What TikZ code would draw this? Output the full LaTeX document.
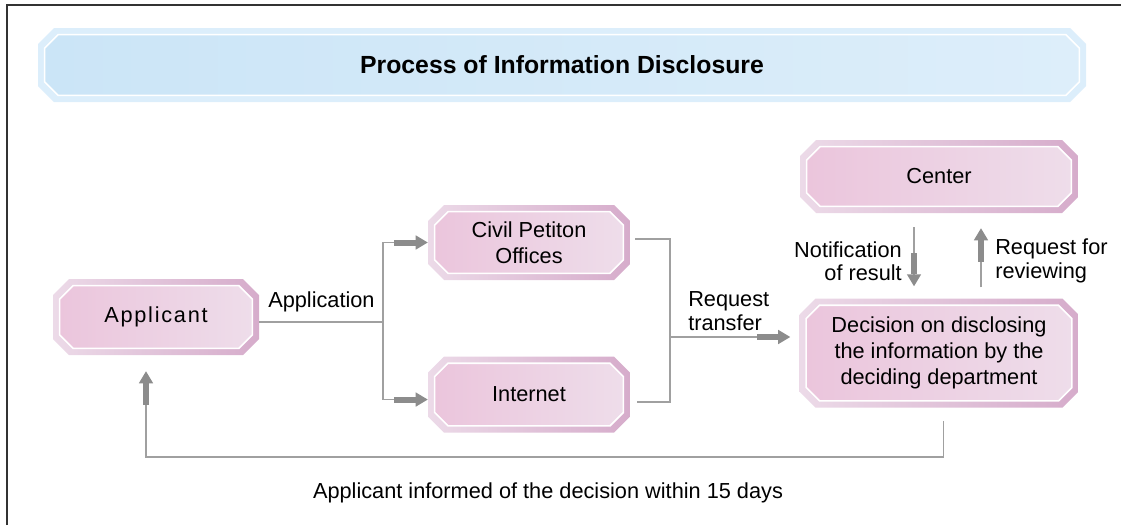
\documentclass[tikz,border=0pt]{standalone}
\usepackage{fontspec}
\setmainfont{Liberation Sans}
\usetikzlibrary{arrows.meta,positioning,calc}
\definecolor{pkin}{HTML}{EBC5DC}
\definecolor{pkinr}{HTML}{EEDDEA}
\definecolor{pkhalo}{HTML}{ECDAE8}
\definecolor{pkhalor}{HTML}{D6ACCB}
\definecolor{blin}{HTML}{CBE5F7}
\definecolor{blinr}{HTML}{DDEEFA}
\definecolor{blhalo}{HTML}{DCEEFB}
\definecolor{lngray}{HTML}{A0A0A0}
\definecolor{argray}{HTML}{8C8C8C}

% chamfered outline inside a node: #1 = inset, #2 = chamfer
\newcommand{\octo}[2]{%
  let \p1=([shift={(#1,#1)}]path picture bounding box.south west),
      \p2=([shift={(-#1,-#1)}]path picture bounding box.north east) in
  (\x1+#2,\y1) -- (\x2-#2,\y1) -- (\x2,\y1+#2) -- (\x2,\y2-#2)
  -- (\x2-#2,\y2) -- (\x1+#2,\y2) -- (\x1,\y2-#2) -- (\x1,\y1+#2) -- cycle}

\begin{document}
\begin{tikzpicture}[x=0.75pt,y=-0.75pt,
  font=\fontsize{16.3}{19.5}\selectfont,
  box/.style={rectangle,fill=white,inner sep=0pt,align=center,
    path picture={
      \shade[left color=pkhalo,right color=pkhalor] \octo{0pt}{12pt};
      \shadedraw[left color=pkin,right color=pkinr,draw=white,line width=1.2pt] \octo{5pt}{10pt};}},
  ttl/.style={rectangle,fill=white,inner sep=0pt,
    path picture={
      \fill[blhalo] \octo{0pt}{12pt};
      \shadedraw[left color=blin,right color=blinr,draw=white,line width=1.2pt] \octo{5pt}{10pt};}},
  lbl/.style={font=\fontsize{16.3}{17.5}\selectfont,inner sep=0pt},
  ln/.style={draw=lngray,line width=1.1pt},
  arr/.style={ln,-{Rectangle[length=16pt,width=4.5pt,color=argray]Triangle[length=9pt,width=10.5pt,color=argray]}}]

\useasboundingbox (0,0) rectangle (1121,525);
\draw[line width=1.5pt,black!80] (7,525) -- (7,5) -- (1121,5);

\node[ttl,minimum width=786pt,minimum height=55.5pt] (title) at (562,65)
   {\fontsize{18.6}{20}\selectfont\bfseries Process of Information Disclosure};

\node[box,minimum width=154.5pt,minimum height=57pt] (app) at (156,317)
   {\addfontfeature{LetterSpace=8}Applicant};
\node[box,minimum width=151.5pt,minimum height=56.25pt] (civ) at (529,242.5) {Civil Petiton\\Offices};
\node[box,minimum width=151.5pt,minimum height=57pt,below=57pt of civ] (int) {Internet};
\node[box,minimum width=208.5pt,minimum height=54.75pt] (cen) at (939,176.5) {Center};
\node[box,minimum width=209.25pt,minimum height=81.75pt,below=63.75pt of cen] (dec)
   {Decision on disclosing\\the information by the\\deciding department};

\node[lbl,anchor=base west] (applab) at (268,307) {Application};
\node[lbl,align=left,anchor=west] (reqlab) at (688,311) {Request\\transfer};
\node[lbl,align=right,anchor=east] (notlab) at (902,261) {Notification\\of result};
\node[lbl,align=left,anchor=west] (revlab) at (995,261) {Request for\\reviewing};
\node[lbl,anchor=base] (inflab) at (548,498) {Applicant informed of the decision within 15 days};

\coordinate (split) at (383,322);
\coordinate (merge) at (670,337);
\coordinate (loop)  at (146,457);

% application branches to both offices
\draw[ln] (app.east |- split) -- (split);
\draw[arr] (split) |- (civ.west);
\draw[arr] (split) |- ([yshift=-3.75pt]int.west);

% both collected and transferred to the department
\draw[ln] ([xshift=3.75pt,yshift=2.5pt]civ.east) -| (merge) |- ([xshift=5pt,yshift=-5.5pt]int.east);
\draw[arr,shorten >=6.75pt] (merge) -- (merge -| dec.west);

% department <-> center
\draw[arr,shorten <=10.5pt,shorten >=9pt] ($(cen.south)+(-18.75pt,0)$) -- ($(cen.south |- dec.north)+(-18.75pt,0)$);
\draw[arr,shorten <=8.25pt,shorten >=11.25pt] ($(cen.south |- dec.north)+(31.5pt,0)$) -- ($(cen.south)+(31.5pt,0)$);

% back to the applicant
\draw[arr,shorten >=12pt] ($(dec.south)+(3.4pt,-9.75pt)$) |- (loop) -- (loop |- app.south);
\end{tikzpicture}
\end{document}
